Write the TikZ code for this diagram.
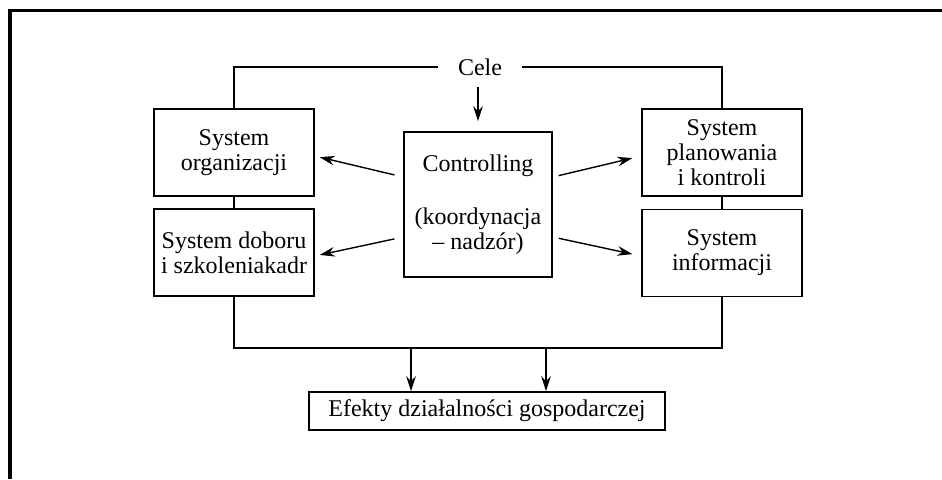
\documentclass[tikz,border=0pt]{standalone}
\usepackage{fontspec}
\setmainfont{Liberation Serif}
\usetikzlibrary{arrows.meta}

\begin{document}
\begin{tikzpicture}[x=0.5pt,y=-0.5pt,
    txt/.style={font=\fontsize{12}{12.5}\selectfont,align=center},
    box/.style={txt,draw,line width=0.8pt,inner sep=0pt},
    sysbox/.style={box,minimum width=80pt,minimum height=43.5pt},
    arr/.style={-{Stealth[length=7.5pt,width=4.8pt]},line width=0.7pt},
    lnk/.style={line width=0.7pt},
    frame/.style={line width=1.6pt}]
  \useasboundingbox (0,0) rectangle (942,479);
  \draw[frame] (942,10.5) -- (10,10.5) -- (10,479);

  \node[txt,inner xsep=10pt] (cele) at (480,67) {Cele};
  \node[box,minimum width=74pt,minimum height=72.5pt] (ctrl) at (478,204.5)
    {Controlling\\[14pt](koordynacja\\– nadzór)};
  \node[sysbox] (org)  at (234,152.5) {System\\organizacji};
  \node[sysbox] (kadr) at (234,252.5) {System doboru\\i szkoleniakadr};
  \node[sysbox] (plan) at (722,152.5) {System\\planowania\\i kontroli};
  \node[sysbox] (info) at (722,253)   {System\\informacji};
  \node[box,minimum width=178pt,minimum height=19pt] (efekty) at (487,411)
    {Efekty działalności gospodarczej};

  % frame round the systems
  \draw[lnk] (cele.west) -| (org.north);
  \draw[lnk] (cele.east) -| (plan.north);
  \draw[lnk] (org.south) -- (kadr.north);
  \draw[lnk] (plan.south) -- (info.north);
  \coordinate (bot) at (478,348);
  \draw[lnk] (kadr.south) -- (kadr.south |- bot) -- (info.south |- bot) -- (info.south);
  \coordinate (b1) at (411,348);
  \coordinate (b2) at (546,348);

  \draw[arr,shorten <=2pt,shorten >=5pt] (cele.south -| ctrl.north) -- (ctrl.north);
  \draw[arr,shorten <=4.5pt,shorten >=2.5pt] ([yshift=13.75pt]ctrl.west) -- ([yshift=-1.75pt]org.east);
  \draw[arr,shorten <=4.5pt,shorten >=2.5pt] ([yshift=-16.25pt]ctrl.west) -- ([yshift=-1.75pt]kadr.east);
  \draw[arr,shorten <=3pt,shorten >=4.5pt] ([yshift=13.75pt]ctrl.east) -- ([yshift=-1.75pt]plan.west);
  \draw[arr,shorten <=3pt,shorten >=4.5pt] ([yshift=-16.25pt]ctrl.east) -- ([yshift=-1.5pt]info.west);
  \draw[arr] (b1) -- (b1 |- efekty.north);
  \draw[arr] (b2) -- (b2 |- efekty.north);
\end{tikzpicture}
\end{document}
